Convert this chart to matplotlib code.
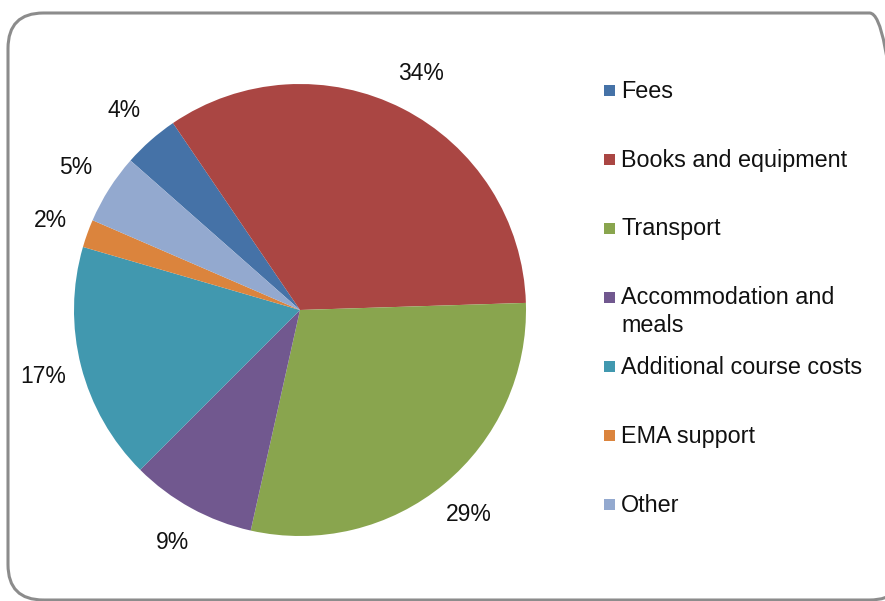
import matplotlib.pyplot as plt
from matplotlib.patches import FancyBboxPatch, Rectangle

# Data
categories = ["Fees", "Books and equipment", "Transport",
              "Accommodation and\nmeals", "Additional course costs",
              "EMA support", "Other"]
shares = [4, 34, 29, 9, 17, 2, 5]
colors = ["#4572A7", "#AA4643", "#89A54E", "#71588F",
          "#4198AF", "#DB843D", "#93A9CF"]

plt.rcParams['font.family'] = ['Liberation Sans', 'DejaVu Sans']

W, H = 885, 601
fig = plt.figure(figsize=(W / 100, H / 100), dpi=100)

# pixel coords (origin top-left) -> figure fraction
def px(x, y):
    return x / W, 1 - y / H

# rounded chart-area border
border = FancyBboxPatch((8 / W, 1 - 600 / H), (905 - 8) / W, (600 - 13) / H,
                        boxstyle="round,pad=0,rounding_size=0.04",
                        transform=fig.transFigure, facecolor="none",
                        edgecolor="#8c8c8c", linewidth=2.2,
                        mutation_aspect=W / H, clip_on=False)
fig.patches.append(border)

# pie: centre (300, 310), radius 226 px
cx, cy, r = 300, 310, 226
ax = fig.add_axes([(cx - r) / W, 1 - (cy + r) / H, 2 * r / W, 2 * r / H])
ax.pie(shares, colors=colors, startangle=138.6, counterclock=False,
       autopct=lambda p: f"{p:.0f}%", pctdistance=1.175,
       textprops=dict(fontsize=16.5, color="#111111"),
       wedgeprops=dict(linewidth=0))
ax.set_xlim(-1, 1)
ax.set_ylim(-1, 1)
ax.set_aspect('equal')

# legend laid out like the Excel original (marker beside the first line)
top, step, line_h = 90, 69, 27
for i, (label, color) in enumerate(zip(categories, colors)):
    y = top + step * i
    x0, y0 = px(604, y + 5.5)
    fig.patches.append(Rectangle((x0, y0), 11 / W, 11 / H, transform=fig.transFigure,
                                 facecolor=color, edgecolor="none"))
    for k, line in enumerate(label.split("\n")):
        tx, ty = px(621, y + 7.5 + k * line_h)
        fig.text(tx, ty, line, fontsize=16.8, color="#111111",
                 va="baseline", ha="left")

fig.savefig("out.png", dpi=100)
